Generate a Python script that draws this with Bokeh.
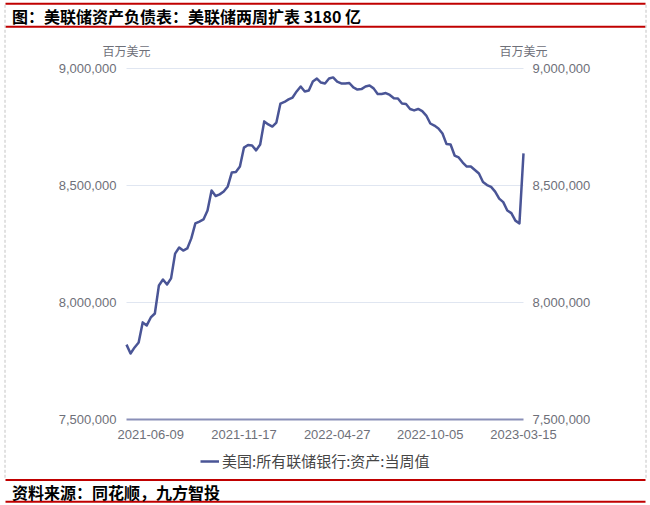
from bokeh.plotting import figure
from bokeh.models import (Range1d, FixedTicker, NumeralTickFormatter, LinearAxis,
                          Legend, LegendItem)
from bokeh.core.properties import value
from bokeh.embed import file_html
from bokeh.resources import INLINE
import pandas as pd

# ---------------- data ----------------
start_date = "2021-04-28"
values = [
    7820000, 7782000, 7808000, 7829000, 7915000, 7902000, 7936000, 7953000,
    8073000, 8098000, 8077000, 8103000, 8209000, 8235000, 8222000, 8231000,
    8274000, 8338000, 8346000, 8355000, 8393000, 8479000, 8455000, 8462000,
    8474000, 8496000, 8556000, 8558000, 8581000, 8662000, 8673000, 8671000,
    8650000, 8675000, 8774000, 8761000, 8752000, 8769000, 8850000, 8857000,
    8868000, 8876000, 8902000, 8923000, 8902000, 8906000, 8944000, 8957000,
    8940000, 8936000, 8957000, 8962000, 8944000, 8936000, 8936000, 8938000,
    8919000, 8910000, 8912000, 8923000, 8927000, 8915000, 8891000, 8891000,
    8895000, 8887000, 8873000, 8872000, 8850000, 8848000, 8827000, 8821000,
    8827000, 8818000, 8799000, 8765000, 8756000, 8744000, 8722000, 8677000,
    8675000, 8628000, 8620000, 8598000, 8581000, 8581000, 8566000, 8551000,
    8515000, 8502000, 8494000, 8474000, 8444000, 8429000, 8393000, 8382000,
    8350000, 8338000, 8637000,
]
dates = [d.strftime("%Y-%m-%d") for d in pd.date_range(start_date, periods=len(values), freq="7D")]
tick_labels = ["2021-06-09", "2021-11-17", "2022-04-27", "2022-10-05", "2023-03-15"]
y_ticks = [7500000, 8000000, 8500000, 9000000]
series_name = "美国:所有联储银行:资产:当周值"
title_text = "图：美联储资产负债表：美联储两周扩表 3180 亿"
source_text = "资料来源：同花顺，九方智投"
unit_text = "百万美元"

# ---------------- layout / style constants ----------------
W, H = 650, 505
PLOT_L, PLOT_R, PLOT_T, PLOT_B = 126, 523, 68, 419   # pixel box of the data area
CJK = "Noto Sans CJK SC"
NUM = "Liberation Sans"
TICK_COLOR = "#6e7079"
RED = "#c00000"
DASH = "#c4c4c4"
LINE = "#4a5596"

n = len(values)
x_per_px = (n - 1) / (PLOT_R - PLOT_L)
y_per_px = (y_ticks[-1] - y_ticks[0]) / (PLOT_B - PLOT_T)
x_range = Range1d(0 - PLOT_L * x_per_px, (n - 1) + (W - PLOT_R) * x_per_px)
y_range = Range1d(y_ticks[0] - (H - PLOT_B) * y_per_px, y_ticks[-1] + PLOT_T * y_per_px)

p = figure(width=W, height=H, output_backend="svg", toolbar_location=None,
           x_range=x_range, y_range=y_range, min_border=0)
p.outline_line_color = None
p.background_fill_color = "white"
p.border_fill_color = "white"
p.extra_x_ranges = {"px": Range1d(0, W)}
p.extra_y_ranges = {"px": Range1d(H, 0)}

# ---------------- decorations (pixel space) ----------------
p.quad(left=[5] * 4, right=[645] * 4, top=[2.3, 25.3, 478.5, 500.3],
       bottom=[4.3, 27.3, 480.5, 502.3], fill_color=RED, line_color=None,
       x_range_name="px", y_range_name="px")
p.segment(x0=[4.5, 645.5], y0=[4.3, 4.3], x1=[4.5, 645.5], y1=[478.5, 478.5],
          line_color=DASH, line_width=1, line_dash="3 2",
          x_range_name="px", y_range_name="px")
p.text(x=[11.5, 11.5], y=[15.5, 491], text=[title_text, source_text],
       text_baseline="middle", text_font=value(CJK), text_font_style="bold",
       text_font_size="16px", text_color="#000000",
       x_range_name="px", y_range_name="px")
p.text(x=[PLOT_L, PLOT_R], y=[50, 50], text=[unit_text, unit_text], text_align="center",
       text_baseline="middle", text_font=value(CJK), text_font_size="12px",
       text_color=TICK_COLOR, x_range_name="px", y_range_name="px")

# ---------------- horizontal grid lines (limited to the data area) ----------------
p.xgrid.grid_line_color = None
p.ygrid.grid_line_color = None
grid_vals = y_ticks[1:]
p.segment(x0=[0] * len(grid_vals), y0=grid_vals, x1=[n - 1] * len(grid_vals), y1=grid_vals,
          line_color="#e0e6f1", line_width=1)

# ---------------- series ----------------
xs = list(range(n))
r = p.line(xs, values, line_color=LINE, line_width=2.5, line_join="round")

# ---------------- axes ----------------
tick_idx = [dates.index(t) for t in tick_labels]
xax = p.xaxis[0]
xax.fixed_location = y_ticks[0]
xax.bounds = (0, n - 1)
xax.ticker = FixedTicker(ticks=tick_idx)
xax.major_label_overrides = {i: t for i, t in zip(tick_idx, tick_labels)}
xax.axis_line_color = "#8a8fb8"
xax.axis_line_width = 2
xax.major_tick_line_color = None
xax.major_tick_out = 0
xax.major_tick_in = 0
xax.minor_tick_line_color = None
xax.major_label_standoff = 10
xax.major_label_text_font = NUM
xax.major_label_text_font_size = "13px"
xax.major_label_text_color = TICK_COLOR

yax = p.yaxis[0]
yax.fixed_location = 0
right_axis = LinearAxis(fixed_location=n - 1)
p.add_layout(right_axis, "right")
for ax, so in ((yax, 10), (right_axis, 9)):
    ax.ticker = FixedTicker(ticks=y_ticks)
    ax.formatter = NumeralTickFormatter(format="0,0")
    ax.bounds = (y_ticks[0], y_ticks[-1])
    ax.axis_line_color = None
    ax.major_tick_line_color = None
    ax.major_tick_out = 0
    ax.major_tick_in = 0
    ax.minor_tick_line_color = None
    ax.major_label_standoff = so
    ax.major_label_text_font = NUM
    ax.major_label_text_font_size = "13px"
    ax.major_label_text_color = TICK_COLOR

# ---------------- legend ----------------
legend = Legend(items=[LegendItem(label=series_name, renderers=[r])],
                location=(200, 34), orientation="horizontal",
                glyph_width=19, glyph_height=20, label_height=20, label_standoff=3,
                padding=0, margin=0, border_line_color=None,
                background_fill_alpha=0,
                label_text_font=CJK, label_text_font_size="15px",
                label_text_color="#464646")
p.add_layout(legend, "center")

open("out.html", "w").write(file_html(p, INLINE))
